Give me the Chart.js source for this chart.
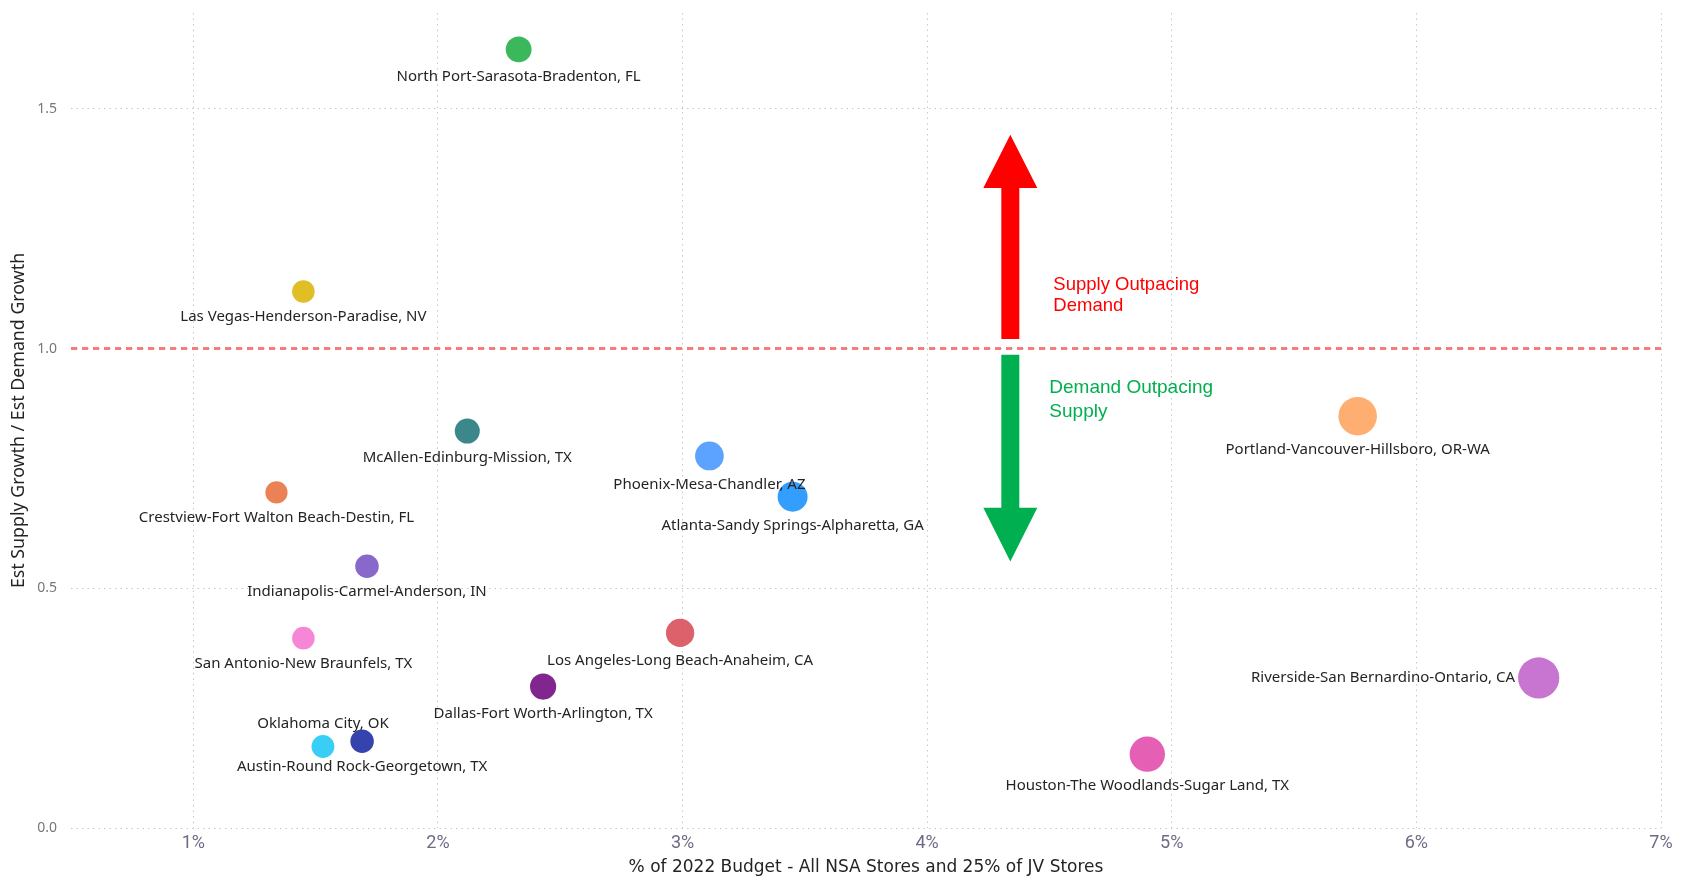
<!DOCTYPE html>
<html><head><meta charset="utf-8">
<script src="https://cdn.jsdelivr.net/npm/chart.js@4.4.1/dist/chart.umd.min.js"></script>
<style>html,body{margin:0;padding:0;background:#fff;overflow:hidden}#wrap{width:1681px;height:881px;position:relative}</style>
</head><body><div id="wrap"><canvas id="c" width="1681" height="881"></canvas></div>
<script>
// ---- data ----
const metros = [
  'North Port-Sarasota-Bradenton, FL',
  'Las Vegas-Henderson-Paradise, NV',
  'McAllen-Edinburg-Mission, TX',
  'Crestview-Fort Walton Beach-Destin, FL',
  'Indianapolis-Carmel-Anderson, IN',
  'San Antonio-New Braunfels, TX',
  'Oklahoma City, OK',
  'Austin-Round Rock-Georgetown, TX',
  'Dallas-Fort Worth-Arlington, TX',
  'Los Angeles-Long Beach-Anaheim, CA',
  'Phoenix-Mesa-Chandler, AZ',
  'Atlanta-Sandy Springs-Alpharetta, GA',
  'Portland-Vancouver-Hillsboro, OR-WA',
  'Riverside-San Bernardino-Ontario, CA',
  'Houston-The Woodlands-Sugar Land, TX'
];
const budgetPct = [2.33, 1.45, 2.12, 1.34, 1.71, 1.45, 1.53, 1.69, 2.43, 2.99, 3.11, 3.45, 5.76, 6.50, 4.90];
const supplyDemandRatio = [1.624, 1.119, 0.828, 0.700, 0.546, 0.396, 0.170, 0.181, 0.295, 0.407, 0.776, 0.691, 0.859, 0.313, 0.154];
const metroColors = ['#1AAB40','#D9B300','#197278','#E66C37','#744EC2','#F472D0','#15C6F4','#12239E','#6B007B','#D64550','#4092FF','#118DFF','#FFA058','#BE5DC9','#E044A7'];
const labelPlacement = ['below','below','below','below','below','below','above','below','below','below','below','below','below','left','below'];
const xTickValues = [1, 2, 3, 4, 5, 6, 7];
const yTickValues = [0, 0.5, 1.0, 1.5];
const thresholdRatio = 1.0;

function hexA(h, a){const n=parseInt(h.slice(1),16);return `rgba(${n>>16&255},${n>>8&255},${n&255},${a})`;}
function sizeToRadius(v){ return 8.6 + 1.85 * v; }

const points = metros.map((m,i)=>({x: budgetPct[i], y: supplyDemandRatio[i], r: sizeToRadius(budgetPct[i])}));

const annotPlugin = {
  id: 'annot',
  beforeDatasetsDraw(chart){
    const {ctx, chartArea, scales:{x, y}} = chart;
    const ty = y.getPixelForValue(thresholdRatio);
    ctx.save();
    ctx.strokeStyle = 'rgba(248,110,110,0.9)';
    ctx.lineWidth = 3;
    ctx.setLineDash([6,5]);
    ctx.beginPath(); ctx.moveTo(chartArea.left, ty); ctx.lineTo(chartArea.right, ty); ctx.stroke();
    ctx.setLineDash([]);
    const cx = x.getPixelForValue(4.34);
    const sw = 9, hw = 27;
    const rTip = y.getPixelForValue(1.446), rBase = y.getPixelForValue(1.335), rBot = y.getPixelForValue(1.02);
    ctx.fillStyle = '#FF0000';
    ctx.beginPath();
    ctx.moveTo(cx, rTip); ctx.lineTo(cx+hw, rBase); ctx.lineTo(cx+sw, rBase); ctx.lineTo(cx+sw, rBot);
    ctx.lineTo(cx-sw, rBot); ctx.lineTo(cx-sw, rBase); ctx.lineTo(cx-hw, rBase); ctx.closePath(); ctx.fill();
    const gTop = y.getPixelForValue(0.987), gBase = y.getPixelForValue(0.668), gTip = y.getPixelForValue(0.556);
    ctx.fillStyle = '#00B050';
    ctx.beginPath();
    ctx.moveTo(cx-sw, gTop); ctx.lineTo(cx+sw, gTop); ctx.lineTo(cx+sw, gBase); ctx.lineTo(cx+hw, gBase);
    ctx.lineTo(cx, gTip); ctx.lineTo(cx-hw, gBase); ctx.lineTo(cx-sw, gBase); ctx.closePath(); ctx.fill();
    ctx.textBaseline = 'middle'; ctx.textAlign = 'left';
    ctx.font = '18.5px "Liberation Sans", Arial, sans-serif';
    ctx.fillStyle = '#FF0000';
    ctx.fillText('Supply Outpacing', cx+43, ty-64);
    ctx.fillText('Demand', cx+43, ty-43);
    ctx.font = '19px "Liberation Sans", Arial, sans-serif';
    ctx.fillStyle = '#00B050';
    ctx.fillText('Demand Outpacing', cx+39, ty+39);
    ctx.fillText('Supply', cx+39, ty+63);
    ctx.restore();
  },
  afterDatasetsDraw(chart){
    const {ctx} = chart;
    const meta = chart.getDatasetMeta(0);
    ctx.save();
    ctx.font = '15px "Noto Sans", "Open Sans", sans-serif';
    ctx.fillStyle = '#252423';
    ctx.textBaseline = 'middle';
    meta.data.forEach((pt, i) => {
      const r = pt.options.radius;
      const pl = labelPlacement[i];
      if (pl === 'left') { ctx.textAlign = 'right'; ctx.fillText(metros[i], pt.x - r - 3, pt.y); }
      else if (pl === 'above') { ctx.textAlign = 'center'; ctx.fillText(metros[i], pt.x, pt.y - r - 11); }
      else { ctx.textAlign = 'center'; ctx.fillText(metros[i], pt.x, pt.y + r + 14); }
    });
    ctx.restore();
  }
};

new Chart(document.getElementById('c'), {
  type: 'bubble',
  data: { datasets: [{
    data: points,
    backgroundColor: metroColors.map(c => hexA(c, 0.85)),
    borderWidth: 0,
    hoverBorderWidth: 0,
    clip: false
  }]},
  options: {
    responsive: false, animation: false, devicePixelRatio: 1, events: [],
    layout: { autoPadding: false, padding: { top: 13, right: 20, left: 0, bottom: 0 } },
    plugins: { legend: { display: false }, tooltip: { enabled: false } },
    scales: {
      x: {
        type: 'linear', min: 0.5, max: 7,
        afterBuildTicks: s => { s.ticks = xTickValues.map(v => ({value: v})); },
        afterFit: s => { s.height = 53; s.paddingLeft = 0; s.paddingRight = 0; },
        grid: { color: '#C8C8C8', lineWidth: 1, drawTicks: false },
        border: { display: false, dash: [1.5, 4] },
        ticks: { padding: 5, color: '#6E6A86', font: { family: 'Roboto, sans-serif', size: 18 }, callback: v => v + '%' , maxRotation: 0},
        title: { display: true, text: '% of 2022 Budget - All NSA Stores and 25% of JV Stores', color: '#252423',
                 font: { family: '"DejaVu Sans", sans-serif', size: 17 }, padding: { top: 0, bottom: 3 } }
      },
      y: {
        type: 'linear', min: 0, max: 1.7,
        afterBuildTicks: s => { s.ticks = yTickValues.map(v => ({value: v})); },
        afterFit: s => { s.width = 71; s.paddingTop = 0; s.paddingBottom = 0; },
        grid: { color: '#C8C8C8', lineWidth: 1, drawTicks: false },
        border: { display: false, dash: [1.5, 4] },
        ticks: { padding: 14, color: '#777777', font: { family: '"Noto Sans", sans-serif', size: 14 }, callback: v => v.toFixed(1) },
        title: { display: true, text: 'Est Supply Growth / Est Demand Growth', color: '#252423',
                 font: { family: '"Noto Sans", sans-serif', size: 17.8 }, padding: { top: 8, bottom: 0 } }
      }
    }
  },
  plugins: [annotPlugin]
});
</script></body></html>
